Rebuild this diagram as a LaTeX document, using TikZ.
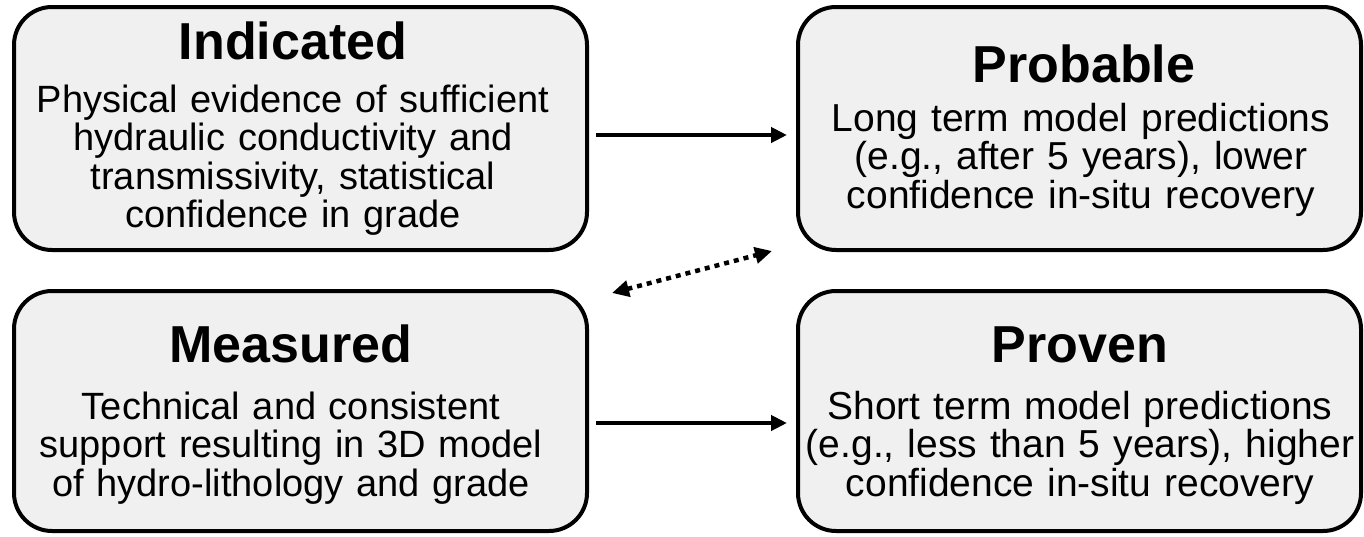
\documentclass[tikz,border=0pt]{standalone}
\usepackage{fontspec}
\setmainfont{Liberation Sans}
\usetikzlibrary{arrows.meta,calc}
\definecolor{boxfill}{HTML}{F0F0F0}
\tikzset{
  box/.style={draw=black, line width=4pt, fill=boxfill, rounded corners=38pt, inner sep=0pt, outer sep=0pt},
  ttl/.style={anchor=base, inner sep=0pt, font=\fontsize{52}{52}\selectfont\bfseries},
  body/.style={anchor=base, inner sep=0pt, text width=620pt, align=center, font=\fontsize{38}{38.5}\selectfont},
  bodyR/.style={body, font=\fontsize{39}{38.5}\selectfont},
  arr/.style={line width=4pt, -{Triangle[length=16pt,width=15pt]}},
  dotarr/.style={line width=4.5pt, dash pattern=on 5pt off 5pt, {Triangle[length=17pt,width=16pt]}-{Triangle[length=17pt,width=16pt]}},
}
\begin{document}
\begin{tikzpicture}[x=1pt,y=-1pt]
\useasboundingbox (0,0) rectangle (1364,536);
% boxes
\node[box, minimum width=573pt, minimum height=243pt] (ind) at (300.5,128.5) {};
\node[box, minimum width=563pt, minimum height=243pt] (prob) at (1079.5,128.5) {};
\node[box, minimum width=573pt, minimum height=240pt] (meas) at (300.5,411) {};
\node[box, minimum width=563pt, minimum height=240pt] (prov) at (1079.5,411) {};
% texts
\node[ttl] (indT) at (293,59) {Indicated};
\node[body] (indB) at (293,112) {Physical evidence of sufficient\\hydraulic conductivity and\\transmissivity, statistical\\confidence in grade};
\node[ttl] (probT) at (1084,82) {Probable};
\node[bodyR] (probB) at (1081,131) {Long term model predictions\\(e.g., after 5 years), lower\\confidence in-situ recovery};
\node[ttl] (measT) at (291,362) {Measured};
\node[body] (measB) at (291,419) {Technical and consistent\\support resulting in 3D model\\of hydro-lithology and grade};
\node[ttl] (provT) at (1080,362) {Proven};
\node[bodyR] (provB) at (1080,419) {Short term model predictions\\(e.g., less than 5 years), higher\\confidence in-situ recovery};
% connectors
\draw[arr] ([xshift=9pt,yshift=-6.5pt]ind.east) -- ([xshift=-11pt,yshift=-6.5pt]prob.west);
\draw[arr] ([xshift=9pt,yshift=-12pt]meas.east) -- ([xshift=-11pt,yshift=-12pt]prov.west);
\coordinate (dA) at (612,293);
\coordinate (dB) at (772,251);
\draw[dotarr] (dA) -- (dB);
\end{tikzpicture}
\end{document}
